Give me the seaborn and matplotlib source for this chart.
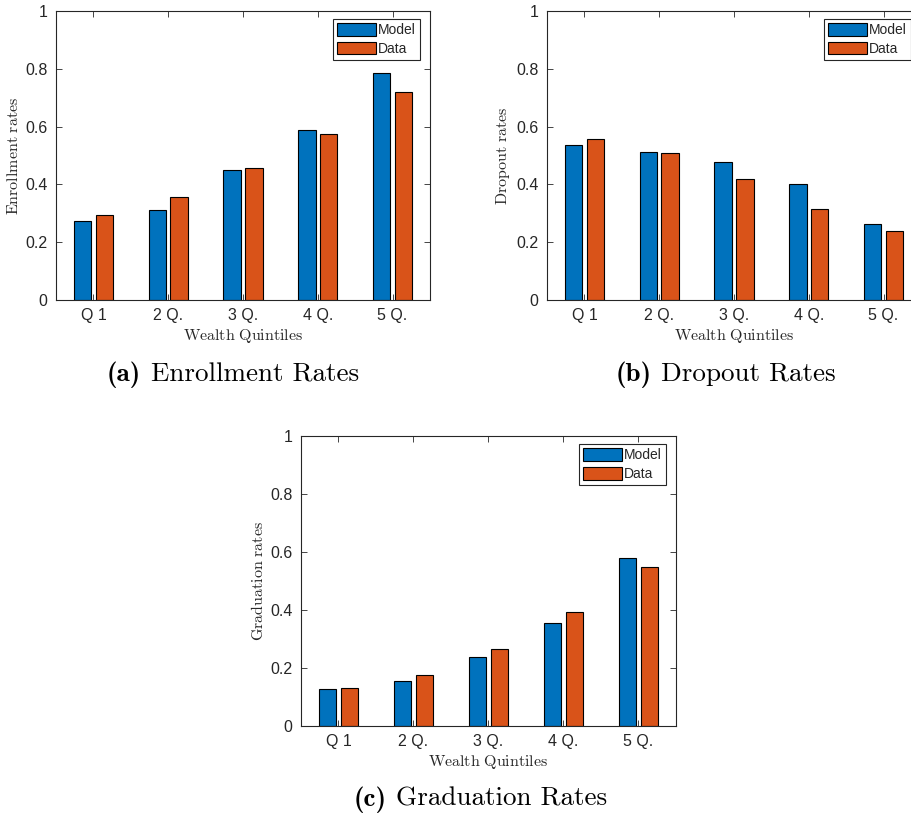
import numpy as np
import pandas as pd
import matplotlib
matplotlib.use("Agg")
import matplotlib.pyplot as plt
import seaborn as sns

quintiles = ["Q 1", "2 Q.", "3 Q.", "4 Q.", "5 Q."]
series = ["Model", "Data"]

enroll_model = [0.273, 0.311, 0.449, 0.588, 0.787]
enroll_data = [0.294, 0.356, 0.458, 0.573, 0.721]

dropout_model = [0.537, 0.512, 0.476, 0.401, 0.264]
dropout_data = [0.558, 0.510, 0.420, 0.314, 0.238]

grad_model = [0.126, 0.154, 0.237, 0.354, 0.578]
grad_data = [0.131, 0.177, 0.267, 0.394, 0.549]

yticks = [0, 0.2, 0.4, 0.6, 0.8, 1]
ytick_labels = ["0", "0.2", "0.4", "0.6", "0.8", "1"]

colors = ["#0072BD", "#D95319"]
ink = "#262626"

sns.set_style("ticks")
plt.rcParams["font.family"] = ["Liberation Sans", "DejaVu Sans"]
plt.rcParams["mathtext.fontset"] = "cm"

W, H = 912, 816
fig = plt.figure(figsize=(W / 100, H / 100), dpi=100)


def make_ax(left, bottom, width, height):
    return fig.add_axes([left / W, 1 - bottom / H, width / W, height / H])


def panel(ax, model, data, ylabel):
    df = pd.DataFrame({
        "quintile": quintiles * 2,
        "series": [series[0]] * 5 + [series[1]] * 5,
        "value": list(model) + list(data),
    })
    sns.barplot(data=df, x="quintile", y="value", hue="series",
                order=quintiles, hue_order=series, palette=colors,
                width=0.58, gap=0.2, edgecolor="black", linewidth=0.8,
                legend=False, ax=ax, saturation=1)
    ax.set_xlim(-0.5, 4.5)
    ax.set_ylim(0, 1)
    ax.set_yticks(yticks)
    ax.set_yticklabels(ytick_labels)
    ax.tick_params(axis="both", direction="in", top=True, right=True,
                   length=4, width=0.6, color=ink, labelcolor=ink,
                   labelsize=11.5, pad=6)
    for s in ax.spines.values():
        s.set_visible(True)
        s.set_color(ink)
        s.set_linewidth(0.8)
    ax.set_xlabel(r"$\mathrm{Wealth\ Quintiles}$", fontsize=11.5, color=ink, labelpad=2.5)
    ax.set_ylabel(r"$\mathrm{" + ylabel.replace(" ", r"\ ") + "}$", fontsize=11.5,
                  color=ink, labelpad=3)
    handles = [plt.Rectangle((0, 0), 1, 1, facecolor=c, edgecolor="black", linewidth=0.8)
               for c in colors]
    ax.legend(handles, series, loc="upper right",
              bbox_to_anchor=(1 - 10 / 374, 1 - 8 / 289),
              fontsize=10, frameon=True, fancybox=False, edgecolor=ink,
              framealpha=1, borderpad=0.3, handlelength=2.8, handleheight=1.0,
              handletextpad=0.15, labelspacing=0.35, borderaxespad=0)
    ax.get_legend().get_frame().set_linewidth(0.8)


ax1 = make_ax(56, 300, 374, 289)
panel(ax1, enroll_model, enroll_data, "Enrollment rates")
ax2 = make_ax(547, 300, 374, 289)
panel(ax2, dropout_model, dropout_data, "Dropout rates")
ax3 = make_ax(301, 726, 375, 290)
panel(ax3, grad_model, grad_data, "Graduation rates")

renderer = fig.canvas.get_renderer()


def caption(cx, baseline, label, title, size=19.5):
    t1 = fig.text(0, 1 - baseline / H, label, family="cmb10", fontsize=size,
                  ha="left", va="baseline", color="black")
    t2 = fig.text(0, 1 - baseline / H, title, family="cmr10", fontsize=size,
                  ha="left", va="baseline", color="black")
    w1 = t1.get_window_extent(renderer).width
    w2 = t2.get_window_extent(renderer).width
    gap = size * 100 / 72 * 0.35
    start = cx - (w1 + gap + w2) / 2
    t1.set_x(start / W)
    t2.set_x((start + w1 + gap) / W)


caption(233, 381, "(a)", "Enrollment Rates")
caption(726, 381, "(b)", "Dropout Rates")
caption(480, 806, "(c)", "Graduation Rates")

fig.savefig("out.png", dpi=100)
